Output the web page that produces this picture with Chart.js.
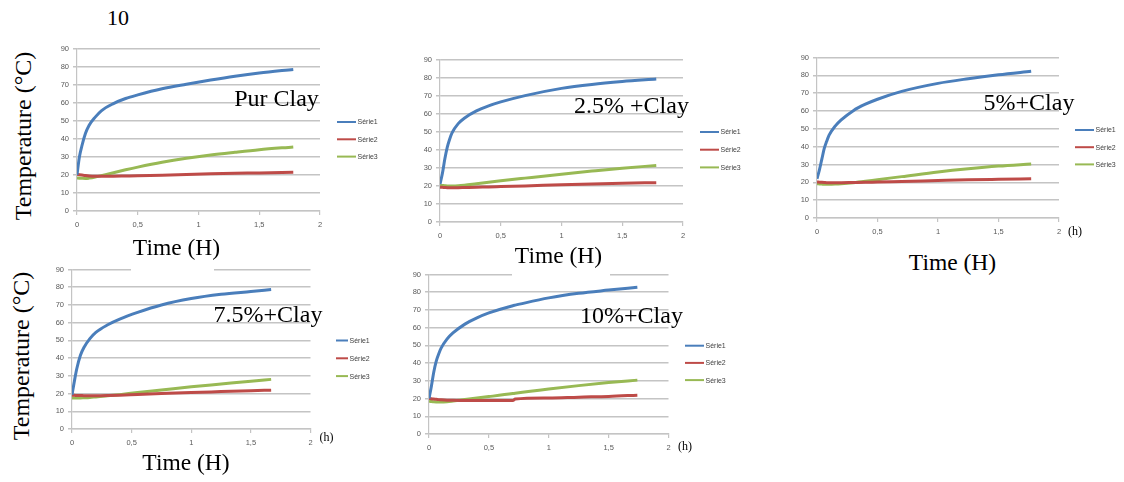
<!DOCTYPE html>
<html>
<head>
<meta charset="utf-8">
<script src="https://cdn.jsdelivr.net/npm/chart.js@4/dist/chart.umd.min.js"></script>
<style>
  html, body { margin: 0; padding: 0; background: #fff; overflow: hidden; }
  body { position: relative; width: 1124px; height: 482px; }
  canvas { position: absolute; }
  .lbl {
    position: absolute; transform: translate(-50%, -50%); white-space: nowrap;
    font-family: "Liberation Serif", "Times New Roman", serif; color: #000; z-index: 3;
  }
  .rot { transform: translate(-50%, -50%) rotate(-90deg); }
  .mask { position: absolute; background: #fff; z-index: 2; }
</style>
</head>
<body>

<script>
// temps en heures, températures en °C
const hoursPur = [0, 0.02, 0.04, 0.07, 0.1, 0.15, 0.2, 0.3, 0.4, 0.5, 0.7, 0.9, 1.1, 1.3, 1.5, 1.78];
const serie1Pur = [20, 30, 36, 43, 47.5, 52, 55.5, 59.5, 62.3, 64.3, 67.7, 70.2, 72.5, 74.6, 76.4, 78.4];
const serie2Pur = [20.3, 20.1, 19.9, 19.6, 19.4, 19.3, 19.3, 19.3, 19.4, 19.5, 19.8, 20.2, 20.6, 20.9, 21.1, 21.5];
const serie3Pur = [18.3, 18.2, 18.1, 18, 18.2, 18.8, 19.6, 21.2, 22.8, 24.3, 27, 29.2, 31, 32.5, 33.9, 35.5];

const hours25 = [0, 0.02, 0.04, 0.06, 0.08, 0.1, 0.15, 0.2, 0.3, 0.4, 0.5, 0.7, 1.0, 1.25, 1.5, 1.78];
const serie1_25 = [21, 27, 35, 41.5, 46, 49.5, 54.5, 57.5, 61.5, 64.3, 66.5, 70, 74, 76.2, 77.8, 79.2];
const serie2_25 = [19.3, 19.2, 19.1, 19, 19, 19, 19, 19.1, 19.3, 19.4, 19.6, 20, 20.6, 21.1, 21.5, 21.8];
const serie3_25 = [20.3, 20.2, 20.1, 20, 20, 20, 20.1, 20.4, 21.2, 22, 22.8, 24.3, 26.5, 28.2, 29.8, 31.3];

const hours5 = [0, 0.02, 0.04, 0.06, 0.08, 0.1, 0.15, 0.2, 0.3, 0.4, 0.5, 0.7, 1.0, 1.25, 1.5, 1.77];
const serie1_5 = [22, 27, 33, 39, 43, 46.5, 51.5, 55, 60.2, 63.8, 66.6, 71, 75.5, 78.1, 80.3, 82.3];
const serie2_5 = [20.2, 20.1, 20, 19.9, 19.8, 19.8, 19.8, 19.8, 19.9, 20, 20.2, 20.5, 21, 21.4, 21.7, 22];
const serie3_5 = [19.2, 19.1, 19, 18.9, 18.9, 18.9, 19, 19.2, 19.8, 20.6, 21.5, 23.2, 25.8, 27.6, 29.1, 30.3];

const hours75 = [0, 0.02, 0.04, 0.07, 0.1, 0.15, 0.2, 0.3, 0.4, 0.55, 0.75, 1.0, 1.25, 1.5, 1.67];
const serie1_75 = [19.3, 27, 34, 41.5, 46, 51, 54.5, 58.8, 62, 65.8, 70, 73.6, 76, 77.6, 78.7];
const serie2_75 = [19, 19, 18.9, 18.9, 18.8, 18.8, 18.8, 18.9, 19.1, 19.5, 20, 20.6, 21.1, 21.6, 21.9];
const serie3_75 = [17.5, 17.5, 17.5, 17.5, 17.6, 17.8, 18.1, 18.7, 19.4, 20.6, 22, 23.8, 25.4, 27, 28];

const hours10 = [0, 0.02, 0.04, 0.06, 0.08, 0.1, 0.15, 0.2, 0.3, 0.4, 0.5, 0.7, 0.72, 1.0, 1.25, 1.5, 1.74];
const serie1_10 = [20, 27, 35, 41, 45, 48.3, 53.5, 57, 62, 65.5, 68.3, 72.4, 72.7, 76.8, 79.4, 81.2, 82.8];
const serie2_10 = [20, 19.9, 19.7, 19.6, 19.4, 19.3, 19.1, 19, 18.9, 18.9, 18.9, 18.9, 19.7, 20.3, 20.8, 21.2, 21.9];
const serie3_10 = [18.5, 18.3, 18.2, 18.1, 18, 18, 18.2, 18.6, 19.5, 20.3, 21.1, 22.8, 23, 25.4, 27.3, 29, 30.4];

const seriesNames = ['Série1', 'Série2', 'Série3'];
const seriesColors = ['#4a7ebb', '#be4b48', '#98b954'];

// placement des graphiques sur la page
const Y_W = 28, X_H = 22, PAD_T = 6, EXTRA = 80;
const panels = [
  { plot: { left: 77, top: 46, width: 243, height: 165 }, legend: { x: 337, y: 122, gap: 17.3, len: 19 },
    hours: hoursPur, series: [serie1Pur, serie2Pur, serie3Pur] },
  { plot: { left: 440, top: 57, width: 243, height: 165 }, legend: { x: 700, y: 132, gap: 17.7, len: 19 },
    hours: hours25, series: [serie1_25, serie2_25, serie3_25] },
  { plot: { left: 817, top: 55, width: 242, height: 163 }, legend: { x: 1075, y: 130, gap: 17.2, len: 19 },
    hours: hours5, series: [serie1_5, serie2_5, serie3_5] },
  { plot: { left: 72, top: 266.5, width: 238.5, height: 162 }, legend: { x: 336, y: 340, gap: 17.8, len: 12 },
    hours: hours75, series: [serie1_75, serie2_75, serie3_75] },
  { plot: { left: 429, top: 272, width: 239.5, height: 162 }, legend: { x: 685, y: 345.7, gap: 17.2, len: 19 },
    hours: hours10, series: [serie1_10, serie2_10, serie3_10] }
];

// légende façon Excel, dessinée à droite du graphique
const excelLegend = {
  id: 'excelLegend',
  afterDraw(chart, args, opts) {
    const ctx = chart.ctx;
    ctx.save();
    ctx.font = '7px "Liberation Sans", Arial, sans-serif';
    ctx.textBaseline = 'middle';
    chart.data.datasets.forEach((ds, i) => {
      const y = opts.y + i * opts.gap;
      ctx.strokeStyle = ds.borderColor;
      ctx.lineWidth = 2;
      ctx.beginPath();
      ctx.moveTo(opts.x, y);
      ctx.lineTo(opts.x + opts.len, y);
      ctx.stroke();
      ctx.fillStyle = '#404040';
      ctx.fillText(ds.label, opts.x + opts.len + 1.5, y + 0.5);
    });
    ctx.restore();
  }
};

const gridColor = '#c4c4c4';
const tickFont = { size: 7.5, family: '"Liberation Sans", Arial, sans-serif' };

panels.forEach(p => {
  const left = p.plot.left - Y_W;
  const top = p.plot.top - PAD_T;
  const w = Math.round(p.plot.width + Y_W + EXTRA);
  const h = Math.round(p.plot.height + PAD_T + X_H);

  const canvas = document.createElement('canvas');
  canvas.width = w;
  canvas.height = h;
  canvas.style.left = left + 'px';
  canvas.style.top = top + 'px';
  canvas.style.width = w + 'px';
  canvas.style.height = h + 'px';
  document.body.appendChild(canvas);

  new Chart(canvas, {
    type: 'line',
    data: {
      datasets: p.series.map((vals, i) => ({
        label: seriesNames[i],
        data: vals.map((v, k) => ({ x: p.hours[k], y: v })),
        borderColor: seriesColors[i],
        borderWidth: 3,
        pointRadius: 0,
        cubicInterpolationMode: 'monotone',
        fill: false
      }))
    },
    options: {
      responsive: false,
      animation: false,
      devicePixelRatio: 1,
      layout: {
        autoPadding: false,
        padding: { top: PAD_T, right: w - Y_W - p.plot.width, left: 0, bottom: 0 }
      },
      plugins: {
        legend: { display: false },
        tooltip: { enabled: false },
        excelLegend: {
          x: p.legend.x - left, y: p.legend.y - top, gap: p.legend.gap, len: p.legend.len
        }
      },
      scales: {
        x: {
          type: 'linear',
          min: 0,
          max: 2,
          afterFit: s => { s.height = X_H; },
          ticks: {
            stepSize: 0.5,
            color: '#595959',
            font: tickFont,
            padding: 5,
            maxRotation: 0,
            callback: v => String(v).replace('.', ',')
          },
          grid: { drawOnChartArea: false, drawTicks: true, tickLength: 4, color: gridColor, lineWidth: 1.2 },
          border: { color: gridColor, width: 1.2 }
        },
        y: {
          min: 0,
          max: 90,
          afterFit: s => { s.width = Y_W; },
          ticks: { stepSize: 10, color: '#595959', font: tickFont, padding: 4 },
          grid: { tickLength: 4, color: gridColor, lineWidth: 1.5 },
          border: { color: gridColor, width: 1.2 }
        }
      }
    },
    plugins: [excelLegend]
  });
});
</script>

<!-- cadres blancs des titres d'axe qui recouvrent la grille du dessous -->
<div class="mask" style="left:131px; top:238px; width:83px; height:33px;"></div>
<div class="mask" style="left:512px; top:246px; width:98px; height:30px;"></div>

<div class="lbl" style="left:118px; top:17.6px; font-size:22px;">10</div>

<div class="lbl rot" style="left:23px; top:136px; font-size:24px;">Temperature (°C)</div>
<div class="lbl rot" style="left:21px; top:356px; font-size:24px;">Temperature (°C)</div>

<div class="lbl" style="left:276.5px; top:98px; font-size:24px;">Pur Clay</div>
<div class="lbl" style="left:631.5px; top:104.6px; font-size:24px;">2.5% +Clay</div>
<div class="lbl" style="left:1029px; top:102px; font-size:24px;">5%+Clay</div>
<div class="lbl" style="left:268px; top:313.6px; font-size:24px;">7.5%+Clay</div>
<div class="lbl" style="left:631.5px; top:315.2px; font-size:24px;">10%+Clay</div>

<div class="lbl" style="left:176.5px; top:247px; font-size:23.5px;">Time (H)</div>
<div class="lbl" style="left:558.5px; top:255.3px; font-size:23.5px;">Time (H)</div>
<div class="lbl" style="left:952.5px; top:262px; font-size:23.5px;">Time (H)</div>
<div class="lbl" style="left:186px; top:462px; font-size:23.5px;">Time (H)</div>

<div class="lbl" style="left:1075px; top:231px; font-size:12px;">(h)</div>
<div class="lbl" style="left:326.5px; top:437px; font-size:12px;">(h)</div>
<div class="lbl" style="left:685px; top:446px; font-size:12px;">(h)</div>

</body>
</html>
